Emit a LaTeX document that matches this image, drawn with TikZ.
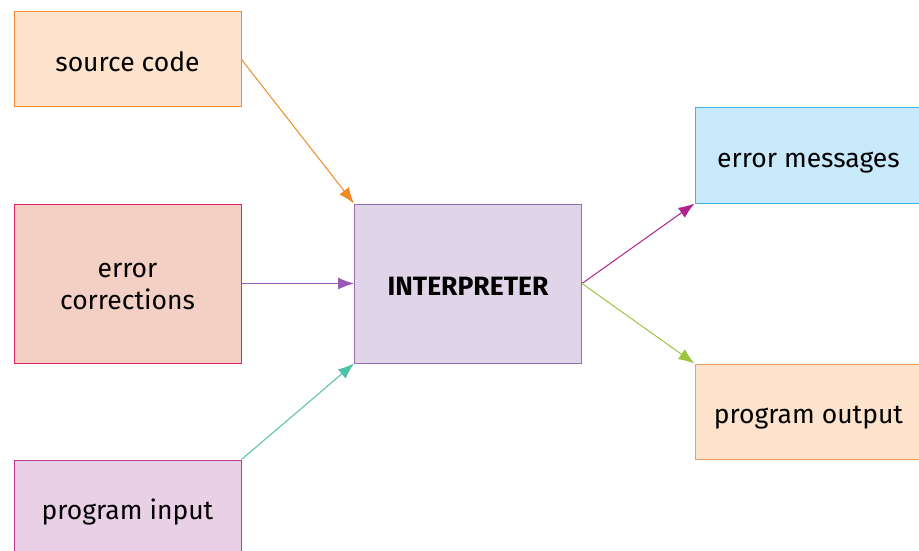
\documentclass[tikz,border=0pt]{standalone}
\usepackage{fontspec}
\setmainfont{Fira Sans}
\usetikzlibrary{arrows.meta}
\definecolor{srcfill}{HTML}{FDE3CC}\definecolor{srcline}{HTML}{F28C38}
\definecolor{corfill}{HTML}{F3D0C3}\definecolor{corline}{HTML}{E0245E}
\definecolor{inpfill}{HTML}{E8D1E6}\definecolor{inpline}{HTML}{C0399A}
\definecolor{intfill}{HTML}{E0D4E8}\definecolor{intline}{HTML}{9B6BB0}
\definecolor{msgfill}{HTML}{C8E9F9}\definecolor{msgline}{HTML}{3BB5E8}
\definecolor{outfill}{HTML}{FDE3CC}\definecolor{outline}{HTML}{F4A05A}
\definecolor{arrorange}{HTML}{F08A24}\definecolor{arrpurple}{HTML}{9B59B6}
\definecolor{arrteal}{HTML}{4FC2A5}\definecolor{arrmagenta}{HTML}{B0238F}
\definecolor{arrgreen}{HTML}{9BC53D}
\tikzset{
  box/.style={draw,line width=1pt,minimum width=227pt,minimum height=95pt,
    align=center,inner sep=0pt,text height=24pt,text depth=0pt,
    font=\fontsize{26.5}{32}\selectfont},
  tallbox/.style={box,minimum height=159pt},
  flow/.style={line width=1pt,-{Latex[length=16pt,width=12pt]}}
}
\begin{document}
\begin{tikzpicture}[x=1pt,y=-1pt]
\useasboundingbox (0,0) rectangle (919,551);
\node[box,fill=srcfill,draw=srcline] (src) at (127.5,59.5) {source code};
\node[tallbox,fill=corfill,draw=corline,text height=8pt,text depth=0pt] (corr) at (127.5,283.5) {};
\node[align=center,font=\fontsize{26.5}{32}\selectfont] (corrtext) at (127.5,286.5) {error\\corrections};
\node[box,fill=inpfill,draw=inpline] (inp) at (127.5,507.5) {program input};
\node[tallbox,fill=intfill,draw=intline,font=\fontsize{26.5}{32}\selectfont\bfseries] (interp) at (468,283.5) {INTERPRETER};
\node[box,fill=msgfill,draw=msgline] (msg) at (808.5,155.5) {error messages};
\node[box,fill=outfill,draw=outline] (out) at (808.5,411.5) {program output};
\draw[flow,arrorange] (src.east) -- (interp.north west);
\draw[flow,arrpurple] (corr.east) -- (interp.west);
\draw[flow,arrteal] (inp.north east) -- (interp.south west);
\draw[flow,arrmagenta] (interp.east) -- (msg.south west);
\draw[flow,arrgreen] (interp.east) -- (out.north west);
\end{tikzpicture}
\end{document}
